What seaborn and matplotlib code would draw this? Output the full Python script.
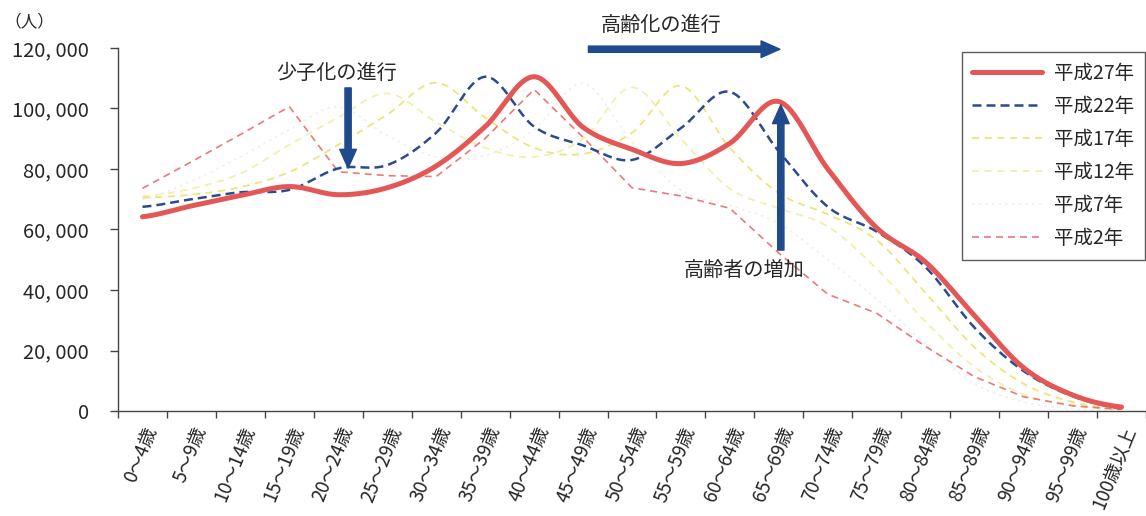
import numpy as np
import pandas as pd
import matplotlib
matplotlib.use("Agg")
import matplotlib.pyplot as plt
import seaborn as sns

# Age groups (5-year bands)
age_groups = ["0～4歳", "5～9歳", "10～14歳", "15～19歳", "20～24歳", "25～29歳",
              "30～34歳", "35～39歳", "40～44歳", "45～49歳", "50～54歳", "55～59歳",
              "60～64歳", "65～69歳", "70～74歳", "75～79歳", "80～84歳", "85～89歳",
              "90～94歳", "95～99歳", "100歳以上"]

# Population (persons) by census year
pop_h27 = [64200, 67800, 71200, 74200, 71500, 73800, 81000, 94000, 110500, 93800, 86500,
           81800, 88500, 102300, 80000, 60500, 49200, 31500, 14300, 5300, 1300]
pop_h22 = [67500, 70000, 72300, 73100, 80200, 81300, 92000, 110500, 94000, 87800, 83000,
           93500, 105500, 85800, 67500, 59300, 47500, 27500, 13200, 4900, 900]
pop_h17 = [70500, 71500, 74000, 79000, 88000, 98000, 108500, 97000, 87000, 85000, 92000,
           107500, 87000, 72000, 65000, 56500, 39000, 21000, 9000, 3000, 600]
pop_h12 = [71000, 73500, 78500, 88000, 97000, 105000, 95500, 87000, 84000, 90000, 107000,
           90000, 73500, 67000, 61000, 47000, 29500, 14500, 5500, 2000, 400]
pop_h7 = [70000, 76000, 84000, 93000, 100500, 91000, 84000, 84500, 93000, 108300, 89000,
          73000, 68000, 62000, 50000, 37000, 22000, 9000, 3000, 700, 100]
pop_h2 = [73600, 82400, 91400, 100600, 79100, 77800, 77500, 90100, 106300, 90500, 73800,
          71100, 67000, 52200, 38600, 32300, 21300, 11300, 4700, 1700, 500]

series_names = ["平成27年", "平成22年", "平成17年", "平成12年", "平成7年", "平成2年"]
series_values = [pop_h27, pop_h22, pop_h17, pop_h12, pop_h7, pop_h2]

y_ticks = [0, 20000, 40000, 60000, 80000, 100000, 120000]

styles = {
    "平成27年": dict(color="#e35856", lw=3.6, ls="-", smooth=True, z=6),
    "平成22年": dict(color="#2b4c8c", lw=1.8, ls=(0, (3.6, 2.0)), smooth=True, z=5),
    "平成17年": dict(color="#ebe57c", lw=1.3, ls=(0, (4, 3)), smooth=True, z=4),
    "平成12年": dict(color="#f3efae", lw=1.3, ls=(0, (4, 3)), smooth=True, z=3),
    "平成7年": dict(color="#efefef", lw=1.2, ls=(0, (1.5, 2.5)), smooth=True, z=2),
    "平成2年": dict(color="#e87a7c", lw=1.2, ls=(0, (4.2, 3)), smooth=False, z=4.5),
}


def catmull_rom(values, steps=24):
    """Smooth curve through the points (same scheme as spreadsheet 'smoothed line')."""
    p = np.asarray(values, dtype=float)
    n = len(p)
    xs, ys = [], []
    for i in range(n - 1):
        p0 = p[i - 1] if i > 0 else p[i]
        p1, p2 = p[i], p[i + 1]
        p3 = p[i + 2] if i + 2 < n else p[i + 1]
        t = np.linspace(0, 1, steps, endpoint=False)
        y = 0.5 * (2 * p1 + (-p0 + p2) * t + (2 * p0 - 5 * p1 + 4 * p2 - p3) * t ** 2
                   + (-p0 + 3 * p1 - 3 * p2 + p3) * t ** 3)
        xs.append(i + t)
        ys.append(y)
    xs.append([n - 1])
    ys.append([p[-1]])
    return np.concatenate(xs), np.concatenate(ys)


sns.set_theme(style="white")
plt.rcParams["font.family"] = ["Noto Sans CJK JP", "DejaVu Sans"]

fig = plt.figure(figsize=(11.46, 5.16), dpi=100)
ax = fig.add_axes([118 / 1146, 1 - 411 / 516, 1 - 118 / 1146, (411 - 48) / 516])

for name, vals in zip(series_names, series_values):
    st = styles[name]
    if st["smooth"]:
        xs, ys = catmull_rom(vals)
    else:
        xs, ys = np.arange(len(vals)), np.asarray(vals, float)
    df = pd.DataFrame({"x": xs, "y": ys})
    sns.lineplot(data=df, x="x", y="y", ax=ax, color=st["color"], linewidth=st["lw"],
                 linestyle=st["ls"], label=name, sort=False, estimator=None,
                 zorder=st["z"])

ax.set_xlim(-0.5, 20.44)
ax.set_ylim(0, 120000)
ax.set_xlabel("")
ax.set_ylabel("")

ax.set_yticks(y_ticks)
ax.set_yticklabels([f"{v:,}".replace(",", ", ") for v in y_ticks], fontsize=14.5)
ax.set_xticks(range(len(age_groups)))
ax.set_xticklabels(age_groups, rotation=68, ha="right", rotation_mode="anchor",
                   fontsize=13.5)
ax.set_xticks(np.arange(-0.5, len(age_groups), 1.0), minor=True)
ax.tick_params(axis="x", which="major", length=0, pad=9)
ax.tick_params(axis="x", which="minor", length=5, width=1, color="#444444",
               direction="out", bottom=True)
ax.tick_params(axis="y", length=6, width=1, color="#444444", direction="out", left=True,
               pad=15)

for side in ("top", "right"):
    ax.spines[side].set_visible(False)
for side in ("left", "bottom"):
    ax.spines[side].set_color("#444444")
    ax.spines[side].set_linewidth(1.0)

fig.text(4 / 1146, 1 - 22 / 516, "（人）", fontsize=12, va="center", ha="left")

arrow_blue = "#1f4a8c"
arrow_kw = dict(arrowstyle="simple,head_length=0.9,head_width=0.8,tail_width=0.3",
                color=arrow_blue, mutation_scale=15, shrinkA=0, shrinkB=0)

# Declining births
ax.annotate("", xy=(4.2, 80300), xytext=(4.2, 106800), arrowprops=arrow_kw, zorder=8)
ax.text(3.96, 111700, "少子化の進行", fontsize=14.5, ha="center", va="center", zorder=8)

# Ageing moving along the age axis
ax.annotate("", xy=(13.02, 119600), xytext=(9.11, 119600), arrowprops=arrow_kw,
            annotation_clip=False, zorder=8)
ax.text(10.6, 127500, "高齢化の進行", fontsize=14.5, ha="center", va="center",
        clip_on=False, zorder=8)

# Growth of elderly population
ax.annotate("", xy=(13.04, 101200), xytext=(13.04, 53200), arrowprops=arrow_kw, zorder=8)
ax.text(12.29, 46600, "高齢者の増加", fontsize=14.5, ha="center", va="center", zorder=8)

leg = ax.legend(loc="upper right", bbox_to_anchor=(1145 / 1146, 1 - 52 / 516),
                bbox_transform=fig.transFigure, borderaxespad=0, fontsize=14,
                handlelength=3.6, labelspacing=0.62, frameon=True, fancybox=False,
                edgecolor="#333333", borderpad=0.55, handletextpad=0.6)
leg.get_frame().set_linewidth(1.0)

fig.savefig("out.png", dpi=100)
